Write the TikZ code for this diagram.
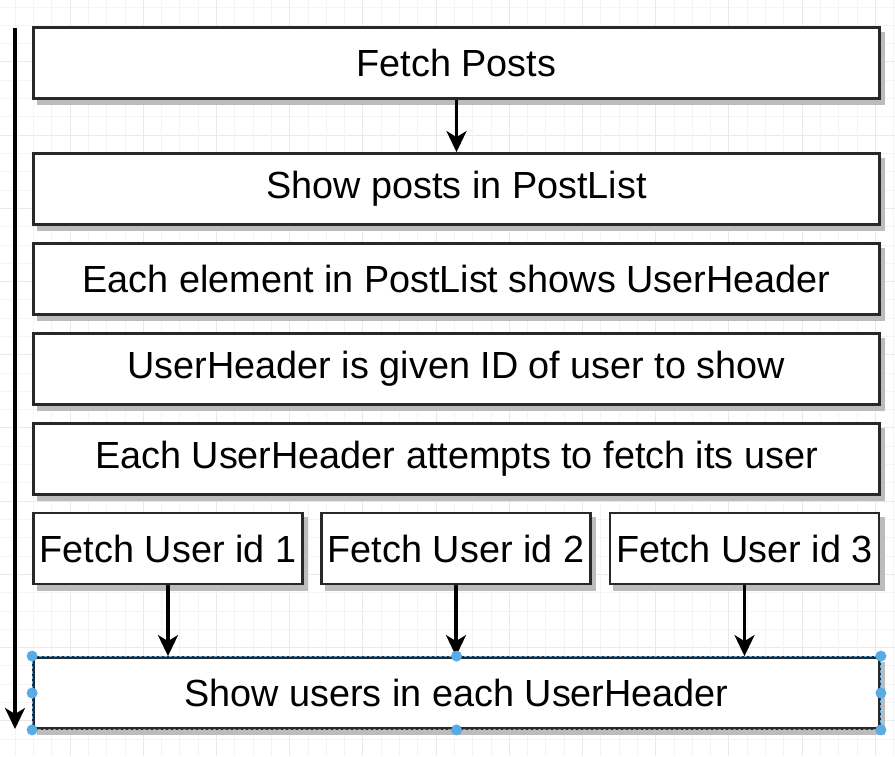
\documentclass[tikz,border=0pt]{standalone}
\usepackage{fontspec}
\setmainfont{Liberation Sans}
\usetikzlibrary{arrows.meta}
\definecolor{gridminor}{rgb}{0.955,0.955,0.955}
\definecolor{gridmajor}{rgb}{0.915,0.915,0.915}
\definecolor{handle}{RGB}{88,172,230}
\definecolor{edge}{RGB}{40,40,40}
\definecolor{shade}{RGB}{188,188,188}
\pgfdeclarelayer{gridlayer}
\pgfdeclarelayer{shadelayer}
\pgfsetlayers{gridlayer,shadelayer,main}
\tikzset{
  stepbox/.style={draw=edge, line width=2.8pt, fill=white, inner sep=0pt,
    minimum height=71pt, font=\fontsize{37.8}{40}\selectfont},
  widebox/.style={stepbox, minimum width=846pt},
  smallbox/.style={stepbox, minimum width=269pt},
  flow/.style={line width=3.2pt, draw=black, -{Stealth[length=21pt,width=20pt,inset=6pt]}},
  grip/.style={circle, fill=handle, inner sep=0pt, minimum size=11pt},
  boxshade/.style={fill=shade},
}
\begin{document}
\begin{tikzpicture}[x=1pt,y=-1pt]
  \useasboundingbox (0,0) rectangle (895,756);
  % background grid
  \begin{pgfonlayer}{gridlayer}
  \foreach \i in {0,...,49} {
    \pgfmathsetmacro{\gx}{-3.2+18.3*\i}
    \pgfmathsetmacro{\gy}{7+18.3*\i}
    \pgfmathtruncatemacro{\mj}{mod(\i,4)}
    \ifnum\mj=0
      \draw[gridmajor, line width=1pt] (\gx,0) -- (\gx,756);
    \else
      \draw[gridminor, line width=0.8pt] (\gx,0) -- (\gx,756);
    \fi
    \pgfmathtruncatemacro{\mh}{mod(\i+1,4)}
    \ifnum\mh=0
      \draw[gridmajor, line width=1pt] (0,\gy) -- (895,\gy);
    \else
      \draw[gridminor, line width=0.8pt] (0,\gy) -- (895,\gy);
    \fi
  }
  \end{pgfonlayer}

  % flow steps
  \node[widebox] (fetch) at (456.5,63) {Fetch Posts};
  \node[widebox] (show) at (456.5,189) {Show posts in PostList};
  \node[widebox] (each) at (456.5,279) {Each element in PostList shows UserHeader};
  \node[widebox] (given) at (456.5,369) {UserHeader is given ID of user to show};
  \node[widebox] (attempt) at (456.5,459) {Each UserHeader attempts to fetch its user};
  \node[smallbox] (u1) at (168,548.5) {Fetch User id 1};
  \node[smallbox] (u2) at (456,548.5) {Fetch User id 2};
  \node[smallbox] (u3) at (744.5,548.5) {Fetch User id 3};
  \node[widebox] (users) at (456.5,693) {Show users in each UserHeader};

  % soft drop shadows below and right of every step
  \begin{pgfonlayer}{shadelayer}
  \foreach \n in {fetch,show,each,given,attempt,u1,u2,u3,users}
    \fill[boxshade] ([shift={(4.5,5.5)}]\n.north west) rectangle ([shift={(4.5,5.5)}]\n.south east);
  \end{pgfonlayer}

  % connectors
  \draw[flow] (fetch.south) -- (show.north);
  \draw[flow] (u1.south) -- (u1.south |- users.north);
  \draw[flow] (u2.south) -- (u2.south |- users.north);
  \draw[flow] (u3.south) -- (u3.south |- users.north);

  % timeline along the left edge
  \coordinate (tstart) at (15,28);
  \coordinate (tend) at (15,729);
  \draw[flow] (tstart) -- (tend);

  % selection outline and handles on the last step
  \draw[handle, line width=0.9pt, dash pattern=on 3pt off 2pt]
    (users.north west) rectangle (users.south east);
  \foreach \a in {north west,north,north east,west,east,south west,south,south east}
    \node[grip] at (users.\a) {};
\end{tikzpicture}
\end{document}
